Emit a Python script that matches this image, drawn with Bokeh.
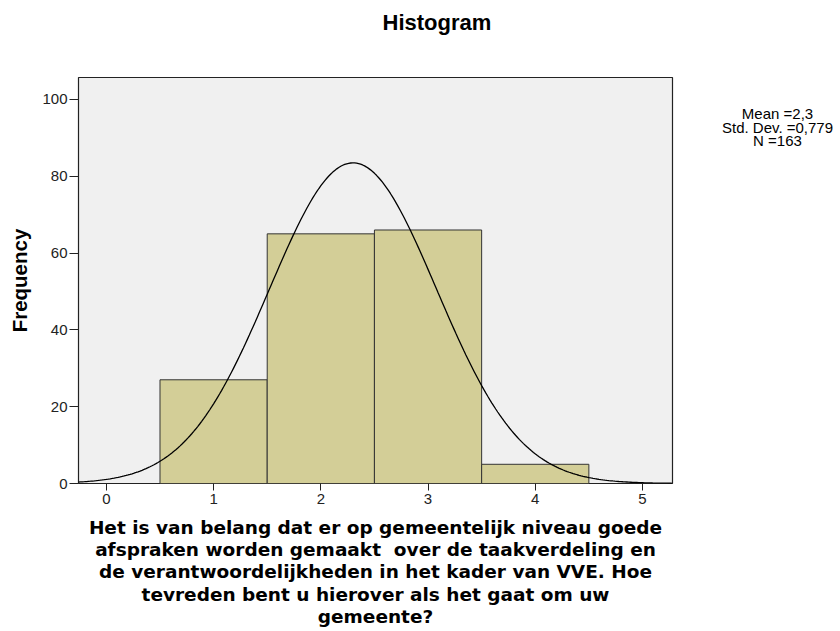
import numpy as np
from bokeh.plotting import figure
from bokeh.layouts import row
from bokeh.models import Range1d, FixedTicker, ColumnDataSource, Title
from bokeh.core.properties import value
from bokeh.embed import file_html
from bokeh.resources import INLINE

# Data
categories = [1, 2, 3, 4]
frequencies = [27, 65, 66, 5]
mean_val = 2.3
sd_val = 0.779
n_val = 163
x_ticks = [0, 1, 2, 3, 4, 5]
y_ticks = [0, 20, 40, 60, 80, 100]
title_text = "Histogram"
stats_lines = ["Mean =2,3", "Std. Dev. =0,779", "N =163"]
x_label_lines = ["Het is van belang dat er op gemeentelijk niveau goede",
                 "afspraken worden gemaakt\u00a0 over de taakverdeling en",
                 "de verantwoordelijkheden in het kader van VVE. Hoe",
                 "tevreden bent u hierover als het gaat om uw",
                 "gemeente?"]

H = 631
FRAME_TOP, FRAME_BOTTOM = 77, 483
p = figure(width=680, height=H, output_backend="svg", toolbar_location=None,
           x_range=Range1d(-0.26, 5.28), y_range=Range1d(0, 105.7),
           min_border_left=78, min_border_right=8, min_border_top=FRAME_TOP,
           min_border_bottom=H - FRAME_BOTTOM, title_location=None)

# spacer between frame and title, then the title itself
p.add_layout(Title(text="\u00a0", text_font_size="10px", standoff=30), "above")
p.add_layout(Title(text=title_text, align="left", offset=304, standoff=0,
                   text_font="Liberation Sans", text_font_style="bold",
                   text_font_size="22px", text_color="black"), "above")

p.background_fill_color = "#F0F0F0"
p.border_fill_color = "white"
p.outline_line_color = "#222222"
p.outline_line_width = 1.2
p.xgrid.visible = False
p.ygrid.visible = False

src = ColumnDataSource(dict(x=categories, top=frequencies))
p.vbar(x="x", top="top", width=1.0, bottom=0, source=src,
       fill_color="#D3CE97", line_color="#333333", line_width=1)

# Normal curve from the chart's stated mean, sd and N (bin width 1)
xs = np.linspace(-0.26, 5.28, 300)
ys = n_val * 1.0 / (sd_val * np.sqrt(2 * np.pi)) * np.exp(-0.5 * ((xs - mean_val) / sd_val) ** 2)
p.line(xs, ys, line_color="black", line_width=1.3)

for ax in (p.xaxis, p.yaxis):
    ax.major_label_text_font = "Liberation Sans"
    ax.major_label_text_font_size = "15px"
    ax.major_label_text_color = "#222222"
    ax.minor_tick_line_color = None
    ax.axis_line_color = None
    ax.major_tick_line_color = "#222222"
    ax.major_tick_in = 0
    ax.axis_label_text_font_style = "bold"
    ax.axis_label_text_color = "black"
p.xaxis.ticker = FixedTicker(ticks=x_ticks)
p.yaxis.ticker = FixedTicker(ticks=y_ticks)
p.yaxis.major_tick_out = 9
p.xaxis.major_tick_out = 7
p.yaxis.major_label_standoff = 2
p.xaxis.major_label_standoff = 3

p.yaxis.axis_label = "Frequency"
p.yaxis.axis_label_text_font = "Liberation Sans"
p.yaxis.axis_label_text_font_size = "20.5px"
p.yaxis.axis_label_standoff = 8

p.xaxis.axis_label = "\n".join(x_label_lines)
p.xaxis.axis_label_text_font = "DejaVu Sans"
p.xaxis.axis_label_text_font_size = "18.5px"
p.xaxis.axis_label_text_line_height = 1.07
p.xaxis.axis_label_standoff = 10

# Side panel with the summary statistics (y in the same pixel frame as the main plot)
SW = 158
s = figure(width=SW, height=H, output_backend="svg", toolbar_location=None,
           x_range=Range1d(680, 680 + SW), y_range=Range1d(FRAME_BOTTOM, FRAME_TOP),
           min_border_left=0, min_border_right=0, min_border_top=FRAME_TOP,
           min_border_bottom=H - FRAME_BOTTOM,
           x_axis_location=None, y_axis_location=None, title_location=None)
s.grid.visible = False
s.outline_line_color = None
s.background_fill_color = "white"
s.text(x=[777] * len(stats_lines), y=[113, 126.5, 140],
       text=stats_lines, text_font=value("Liberation Sans"), text_font_size="15px",
       text_align="center", text_baseline="middle", text_color="black")

layout = row(p, s, spacing=0)
open("out.html", "w").write(file_html(layout, INLINE))
